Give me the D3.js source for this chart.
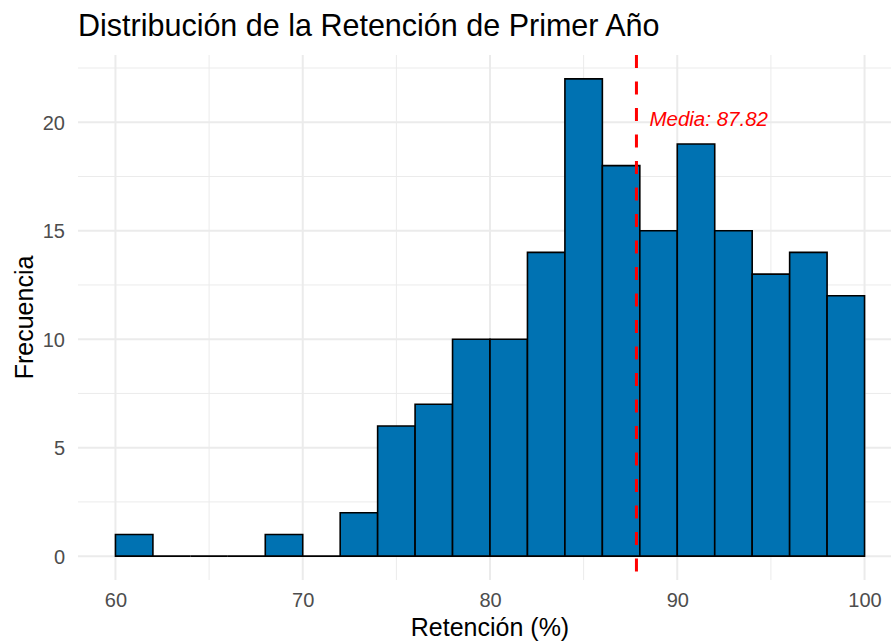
<!DOCTYPE html>
<html>
<head>
<meta charset="utf-8">
<script src="https://cdn.jsdelivr.net/npm/d3@7"></script>
<style>
  body { margin: 0; background: #fff; }
  text { font-family: "Liberation Sans", Arial, sans-serif; }
</style>
</head>
<body>
<div id="chart"></div>
<script>
// bins of width 2 from 60 to 100
const binStarts = [60, 62, 64, 66, 68, 70, 72, 74, 76, 78, 80, 82, 84, 86, 88, 90, 92, 94, 96, 98];
const counts = [1, 0, 0, 0, 1, 0, 2, 6, 7, 10, 10, 14, 22, 18, 15, 19, 15, 13, 14, 12];
const binWidth = 2;
const meanValue = 87.82;
const xTicks = [60, 70, 80, 90, 100];
const yTicks = [0, 5, 10, 15, 20];

const width = 891, height = 641;
const panel = { left: 78, right: 902, top: 55, bottom: 580 };

const svg = d3.select("#chart").append("svg")
  .attr("width", width)
  .attr("height", height);

const x = d3.scaleLinear().domain([58, 102]).range([panel.left, panel.right]);
const y = d3.scaleLinear().domain([-1.1, 23.1]).range([panel.bottom, panel.top]);

// grid menor
const g = svg.append("g");
[65, 75, 85, 95].forEach(v => {
  g.append("line").attr("x1", x(v)).attr("x2", x(v))
    .attr("y1", panel.top).attr("y2", panel.bottom)
    .attr("stroke", "#ebebeb").attr("stroke-width", 1);
});
[2.5, 7.5, 12.5, 17.5, 22.5].forEach(v => {
  g.append("line").attr("x1", panel.left).attr("x2", panel.right)
    .attr("y1", y(v)).attr("y2", y(v))
    .attr("stroke", "#ebebeb").attr("stroke-width", 1);
});
// grid mayor
xTicks.forEach(v => {
  g.append("line").attr("x1", x(v)).attr("x2", x(v))
    .attr("y1", panel.top).attr("y2", panel.bottom)
    .attr("stroke", "#ebebeb").attr("stroke-width", 2);
});
yTicks.forEach(v => {
  g.append("line").attr("x1", panel.left).attr("x2", panel.right)
    .attr("y1", y(v)).attr("y2", y(v))
    .attr("stroke", "#ebebeb").attr("stroke-width", 2);
});

// barras (las vacías se dibujan como una línea en y = 0)
const bins = binStarts.map((s, i) => ({ x0: s, x1: s + binWidth, n: counts[i] }));
svg.append("g").selectAll("path")
  .data(bins)
  .enter().append("path")
  .attr("d", d => d.n > 0
    ? `M${x(d.x0)},${y(0)}V${y(d.n)}H${x(d.x1)}V${y(0)}Z`
    : `M${x(d.x0)},${y(0)}H${x(d.x1)}`)
  .attr("fill", "#0072B2")
  .attr("stroke", "#000")
  .attr("stroke-width", 1.6);

// línea de la media
svg.append("line")
  .attr("x1", x(meanValue)).attr("x2", x(meanValue))
  .attr("y1", panel.top).attr("y2", panel.bottom)
  .attr("stroke", "#ff0000")
  .attr("stroke-width", 3)
  .attr("stroke-dasharray", "13,13.5");

svg.append("text")
  .attr("x", x(meanValue) + 13)
  .attr("y", 126)
  .attr("fill", "#ff0000")
  .attr("font-size", "20.5px")
  .attr("font-style", "italic")
  .text("Media: " + meanValue.toFixed(2));

// ejes
const xAxis = svg.append("g")
  .attr("transform", `translate(0,${panel.bottom})`)
  .call(d3.axisBottom(x).tickValues(xTicks).tickSize(0).tickPadding(0));
xAxis.select(".domain").remove();
xAxis.selectAll("text")
  .attr("y", 27).attr("dy", 0)
  .attr("fill", "#4d4d4d").attr("font-size", "20px")
  .attr("font-family", "Liberation Sans, Arial, sans-serif");

const yAxis = svg.append("g")
  .attr("transform", `translate(${panel.left},0)`)
  .call(d3.axisLeft(y).tickValues(yTicks).tickSize(0).tickPadding(0));
yAxis.select(".domain").remove();
yAxis.selectAll("text")
  .attr("x", -13).attr("dy", "0.36em")
  .attr("fill", "#4d4d4d").attr("font-size", "20px")
  .attr("font-family", "Liberation Sans, Arial, sans-serif");

// títulos
svg.append("text")
  .attr("x", panel.left).attr("y", 36)
  .attr("font-size", "30.5px").attr("fill", "#000")
  .text("Distribución de la Retención de Primer Año");

svg.append("text")
  .attr("x", (panel.left + panel.right) / 2).attr("y", 636)
  .attr("text-anchor", "middle")
  .attr("font-size", "25px").attr("fill", "#000")
  .text("Retención (%)");

svg.append("text")
  .attr("transform", `translate(33,${(panel.top + panel.bottom) / 2}) rotate(-90)`)
  .attr("text-anchor", "middle")
  .attr("font-size", "25px").attr("fill", "#000")
  .text("Frecuencia");
</script>
</body>
</html>
